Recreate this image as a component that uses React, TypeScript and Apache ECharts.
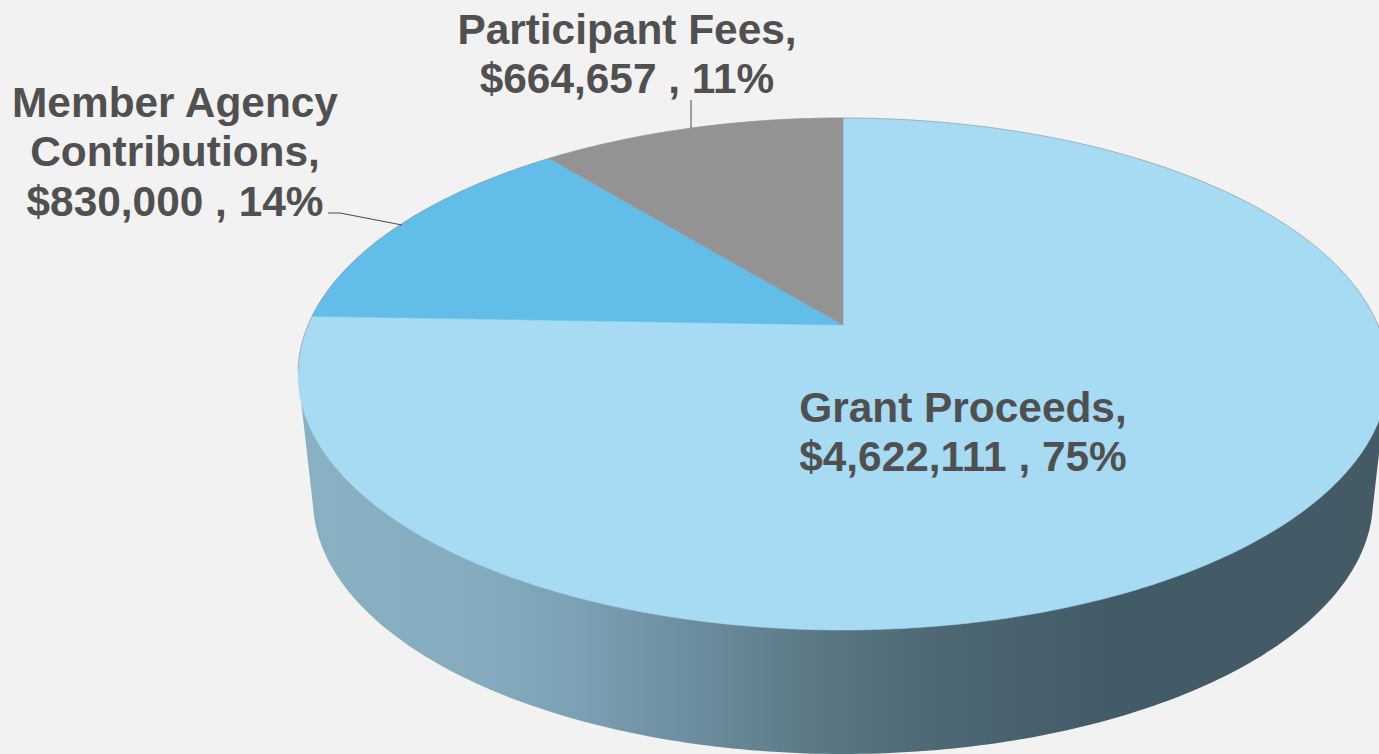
import React, { useEffect, useRef } from "react";
import * as echarts from "echarts";

const categories = ["Grant Proceeds", "Member Agency Contributions", "Participant Fees"];
const amounts = [4622111, 830000, 664657];
const sliceColors = ["#A6DBF3", "#62BDE9", "#949393"];
const labelLines = [
  { lines: ["Grant Proceeds,", "$4,622,111 , 75%"], x: 963, y: 407 },
  { lines: ["Member Agency", "Contributions,", "$830,000 , 14%"], x: 175, y: 102 },
  { lines: ["Participant Fees,", "$664,657 , 11%"], x: 627, y: 29 },
];
const wallStops = [
  [0, "#8AB1C3"], [0.17, "#84ABBE"], [0.26, "#7BA0B3"], [0.37, "#6A8D9D"],
  [0.47, "#5C7985"], [0.6, "#4C6672"], [0.75, "#435B67"], [1, "#445B66"],
];

// Top face of the pie: perspective projection of a disc to an ellipse
const CX = 843, CY = 374, RX = 545, RY = 256, APEX_Y = 325;
const K = (CY - APEX_Y) / RY;
// Bottom rim
const BX = 530, BY = 254, BCY = 500;

function project(theta: number): [number, number] {
  const u = Math.sin(theta), v = Math.cos(theta);
  const d = 1 + K * v;
  return [CX + (RX * Math.sqrt(1 - K * K) * u) / d, CY - (RY * (v + K)) / d];
}

function sliceRange(i: number): [number, number] {
  const total = amounts.reduce((a, b) => a + b, 0);
  const before = amounts.slice(0, i).reduce((a, b) => a + b, 0);
  return [(before / total) * 2 * Math.PI, ((before + amounts[i]) / total) * 2 * Math.PI];
}

function wallPoints(): number[][] {
  const pts: number[][] = [[CX - RX, CY]];
  for (let d = 178; d >= 2; d -= 1) {
    const t = (d * Math.PI) / 180;
    pts.push([CX + BX * Math.cos(t), BCY + BY * Math.sin(t)]);
  }
  pts.push([CX + RX, CY]);
  return pts;
}

export default function App() {
  const ref = useRef<HTMLDivElement>(null);
  useEffect(() => {
    document.body.style.margin = "0";
    document.documentElement.style.overflow = "hidden";
    const chart = echarts.init(ref.current!, null, { renderer: "svg" });
    const font = '700 42.4px "Liberation Sans", Arial, sans-serif';
    const texts: any[] = [];
    labelLines.forEach((l) => {
      l.lines.forEach((s, i) => {
        texts.push({
          type: "text", z: 10,
          style: { text: s, x: l.x, y: l.y + i * 49.6, font, fill: "#505050", textAlign: "center", textVerticalAlign: "middle" },
        });
      });
    });
    const leaders = [
      [[691, 100], [691, 128]],
      [[328, 213], [340, 213], [402, 225]],
    ];
    leaders.forEach((points) => {
      texts.push({ type: "polyline", z: 9, shape: { points }, style: { stroke: "#4A4A4A", lineWidth: 1, fill: "none" } });
    });
    chart.setOption({
      animation: false,
      backgroundColor: "#F2F2F2",
      graphic: texts,
      series: [
        {
          type: "custom",
          coordinateSystem: "none",
          silent: true,
          z: 1,
          data: [[1]],
          renderItem: () => ({
            type: "polygon",
            shape: { points: wallPoints() },
            style: {
              fill: new echarts.graphic.LinearGradient(
                CX - RX, 0, CX + RX, 0,
                wallStops.map(([offset, color]) => ({ offset: offset as number, color: color as string })),
                true
              ),
            },
          }),
        },
        {
          type: "custom",
          coordinateSystem: "none",
          silent: true,
          z: 2,
          data: categories.map((name, i) => ({ name, value: amounts[i] })),
          renderItem: (params: any) => {
            const i = params.dataIndex;
            const [a0, a1] = sliceRange(i);
            const pts: number[][] = [[CX, APEX_Y]];
            const n = Math.ceil((a1 - a0) * 90);
            for (let s = 0; s <= n; s++) pts.push(project(a0 + ((a1 - a0) * s) / n));
            return {
              type: "polygon",
              shape: { points: pts },
              style: { fill: sliceColors[i], stroke: sliceColors[i], lineWidth: 0.5 },
            };
          },
        },
        {
          type: "custom",
          coordinateSystem: "none",
          silent: true,
          z: 3,
          data: [[1]],
          renderItem: () => {
            const pts: number[][] = [];
            for (let d = -100; d <= 100; d += 1) pts.push(project((d * Math.PI) / 180));
            return {
              type: "polyline",
              shape: { points: pts },
              style: { fill: "none", stroke: "#8A969C", lineWidth: 0.6 },
            };
          },
        },
      ],
    });
    return () => chart.dispose();
  }, []);
  return <div ref={ref} style={{ width: 1379, height: 754, position: "fixed", left: 0, top: 0 }} />;
}
